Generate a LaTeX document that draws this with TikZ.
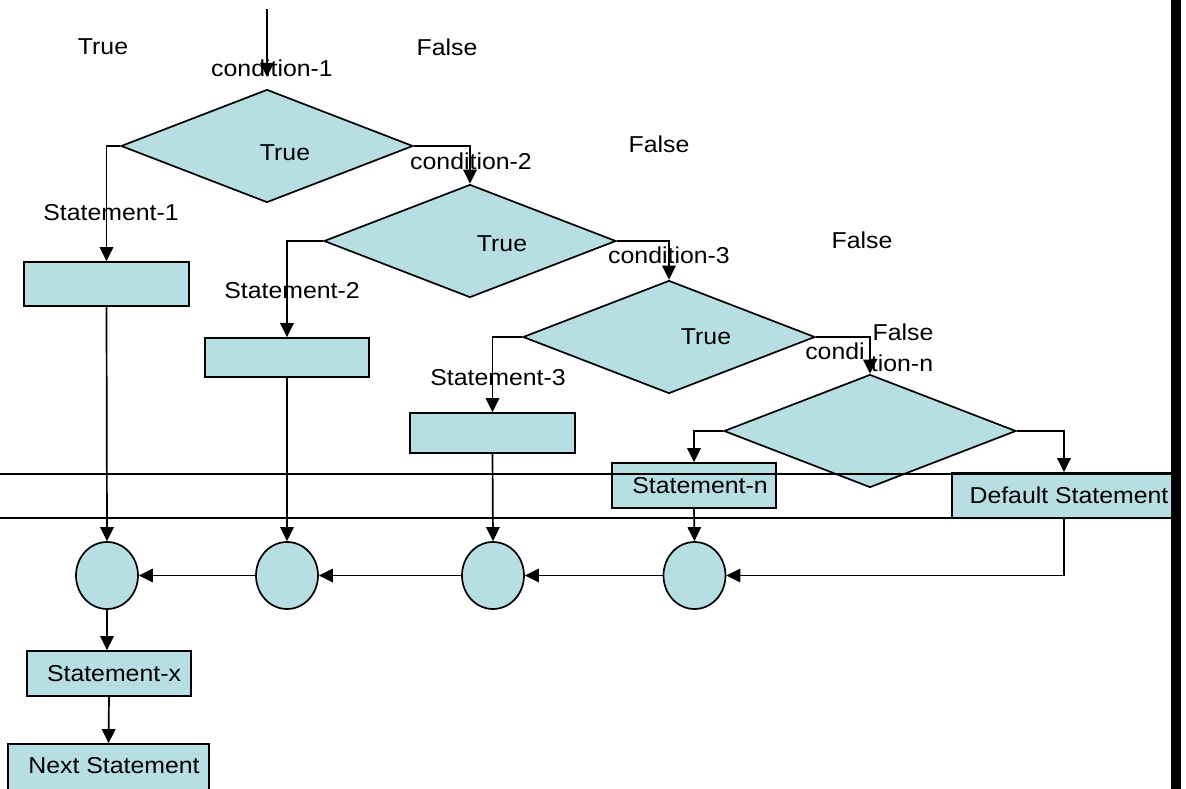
\documentclass[tikz,border=0pt]{standalone}
\usepackage{fontspec}
\setmainfont{Liberation Sans}[FakeStretch=1.08]
\usetikzlibrary{shapes.geometric,arrows.meta}
\definecolor{boxfill}{HTML}{B7DFE3}
\tikzset{
  dia/.style={diamond, draw, fill=boxfill, inner sep=0pt, minimum width=292pt, minimum height=113pt},
  stbox/.style={rectangle, draw, fill=boxfill, inner sep=0pt},
  jn/.style={ellipse, draw, fill=boxfill, inner sep=0pt, minimum width=62pt, minimum height=67pt},
  lbl/.style={inner sep=0pt},
  arr/.style={-{Triangle[length=14pt,width=13.5pt]}},
  band/.style={line width=2.2pt}
}
\begin{document}
\begin{tikzpicture}[x=1pt,y=-1pt,line width=1.7pt,font=\fontsize{23}{27}\selectfont]
\clip (0,0) rectangle (1186,789);
\fill[white] (0,0) rectangle (1186,789);
% decision diamonds
\node[dia] (d1) at (267,146) {};
\node[dia] (d2) at (470,241) {};
\node[dia] (d3) at (669,337) {};
\node[dia] (d4) at (870,431) {};
% statement boxes
\node[stbox, minimum width=165pt, minimum height=44pt] (b1) at (106.5,284) {};
\node[stbox, minimum width=164pt, minimum height=39pt] (b2) at (287,357.5) {};
\node[stbox, minimum width=165pt, minimum height=40pt] (b3) at (492.5,433) {};
\node[stbox, minimum width=164pt, minimum height=45pt] (bn) at (694,485.5) {\hspace{12pt}Statement-n};
\node[stbox, minimum width=224pt, minimum height=45pt] (bd) at (1064,495.5) {\hspace{10pt}Default Statement};
\node[stbox, minimum width=164pt, minimum height=45pt] (bx) at (109,673.5) {\hspace{10pt}Statement-x};
\node[stbox, minimum width=201pt, minimum height=56pt] (nx) at (108.5,772) {\raisebox{-1pt}[0pt][0pt]{\hspace{11pt}Next Statement}};
% junctions
\node[jn] (e1) at (107,575.5) {};
\node[jn] (e2) at (287,575.5) {};
\node[jn] (e3) at (493,575.5) {};
\node[jn] (e4) at (694.5,575.5) {};
% labels
\node[lbl] (tT) at (103,47) {True};
\node[lbl] (tF1) at (447,47) {False};
\node[lbl] (c1) at (272,68) {condition-1};
\node[lbl] (t1) at (285,153) {True};
\node[lbl] (s1) at (111,213) {Statement-1};
\node[lbl] (tF2) at (659,144) {False};
\node[lbl] (c2) at (471,161) {condition-2};
\node[lbl] (t2) at (502,244) {True};
\node[lbl] (s2) at (292,291) {Statement-2};
\node[lbl] (tF3) at (862,240) {False};
\node[lbl] (c3) at (669,255) {condition-3};
\node[lbl] (t3) at (706,337) {True};
\node[lbl] (s3) at (498,378) {Statement-3};
\node[lbl] (tF4) at (903,332) {False};
\node[lbl] (cn1) at (835,351) {condi};
\node[lbl] (cn2) at (902,363) {tion-n};
% connectors
\coordinate (top) at (267,9);
\coordinate (topend) at (267,77);
\draw[arr] (top) -- (topend);
\draw[arr] (d1.west) -| (b1.north);
\draw[arr] (d1.east) -| (d2.north);
\draw[arr] (d2.west) -| (b2.north);
\draw[arr] (d2.east) -| (d3.north);
\draw[arr] (d3.west) -| (b3.north);
\draw[arr] (d3.east) -| (d4.north);
\draw[arr] (d4.west) -| (bn.north);
\draw[arr] (d4.east) -| (bd.north);
\draw[arr] (b1.south) -- (e1.north);
\draw[arr] (b2.south) -- (e2.north);
\draw[arr] (b3.south) -- (e3.north);
\draw[arr] (bn.south) -- (e4.north);
\draw[arr] (bd.south) |- (e4.east);
\draw[arr] (e4.west) -- (e3.east);
\draw[arr] (e3.west) -- (e2.east);
\draw[arr] (e2.west) -- (e1.east);
\draw[arr] (e1.south) -- (e1.south |- bx.north);
\draw[arr] (bx.south) -- (nx.north);
% horizontal band lines and right bar
\draw[band] (0,474) -- (1171,474);
\draw[band] (0,518) -- (1171,518);
\fill (1171,0) rectangle (1181,789);
\end{tikzpicture}
\end{document}
